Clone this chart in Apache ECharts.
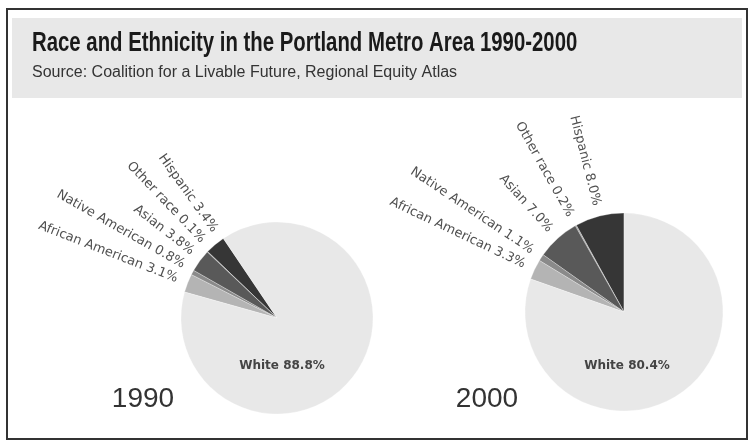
<!DOCTYPE html>
<html><head><meta charset="utf-8">
<script src="https://cdn.jsdelivr.net/npm/echarts@6/dist/echarts.min.js"></script>
<style>html,body{margin:0;padding:0;background:#fff}#c{width:751px;height:444px}</style>
</head><body><div id="c"></div>
<script>
const categories = ['Hispanic', 'Other race', 'Asian', 'Native American', 'African American', 'White'];
const values1990 = [3.4, 0.1, 3.8, 0.8, 3.1, 88.8];
const values2000 = [8.0, 0.2, 7.0, 1.1, 3.3, 80.4];
const years = ['1990', '2000'];
const titleText = 'Race and Ethnicity in the Portland Metro Area 1990-2000';
const subtitleText = 'Source: Coalition for a Livable Future, Regional Equity Atlas';

const sliceColors = ['#363636', '#9a9a9a', '#595959', '#8a8a8a', '#b4b4b4', '#e8e8e8'];
const pieCenters = [[277, 318], [624, 312]];
const pieRadii = [96, 99];
const pieOffset = [34, 0];          // degrees counter-clockwise from 12 o'clock
const whiteLabelShift = [[5, 48], [3, 54]];
const yearPos = [[143, 399], [487, 399]];
const labelGap = 8.3;

const chart = echarts.init(document.getElementById('c'), null, {renderer: 'canvas'});

function labelAngles(vals, offset) {
  const total = vals.reduce((a, b) => a + b, 0);
  let acc = offset;
  const mids = [];
  vals.forEach(v => { const w = v / total * 360; mids.push(acc + w / 2); acc += w; });
  const a = mids.slice(0, vals.length - 1);
  for (let i = a.length - 2; i >= 0; i--) a[i] = Math.min(a[i], a[i + 1] - labelGap);
  return a;
}

function pieSeries(vals, k) {
  const center = pieCenters[k];
  const r = pieRadii[k];
  const last = categories.length - 1;
  const angles = labelAngles(vals, pieOffset[k]);
  return {
    type: 'pie',
    center: center,
    radius: r,
    startAngle: 90 + pieOffset[k],
    clockwise: false,
    animation: false,
    avoidLabelOverlap: false,
    itemStyle: {borderColor: 'rgba(255,255,255,0.45)', borderWidth: 0.6},
    label: {
      show: true, position: 'outside',
      formatter: p => p.name + ' ' + p.value.toFixed(1) + '%',
      fontFamily: 'DejaVu Sans', fontSize: 13, color: '#505050'
    },
    labelLine: {show: false},
    labelLayout: p => {
      if (p.dataIndex === last) {
        return {x: center[0] + whiteLabelShift[k][0], y: center[1] + whiteLabelShift[k][1],
                align: 'center', verticalAlign: 'middle', rotate: 0};
      }
      const t = angles[p.dataIndex] * Math.PI / 180;
      const R = r + 11;
      return {x: center[0] - Math.sin(t) * R, y: center[1] - Math.cos(t) * R,
              align: 'right', verticalAlign: 'middle', rotate: angles[p.dataIndex] - 90};
    },
    emphasis: {disabled: true},
    data: categories.map((n, i) => ({
      name: n, value: vals[i],
      itemStyle: {color: sliceColors[i]},
      label: i === last ? {position: 'inside', fontWeight: 'bold', fontSize: 12, color: '#444'} : undefined
    }))
  };
}

chart.setOption({
  backgroundColor: '#ffffff',
  graphic: [
    {type: 'rect', z: -10, shape: {x: 12, y: 18, width: 730, height: 80}, style: {fill: '#e8e8e8'}},
    {type: 'rect', z: -5, shape: {x: 7, y: 9, width: 740, height: 430}, style: {fill: 'none', stroke: '#333', lineWidth: 2}},
    {type: 'text', x: 32, y: 44, scaleX: 0.754,
     style: {text: titleText, align: 'left', verticalAlign: 'middle', font: 'bold 27px "Liberation Sans", Arial, sans-serif', fill: '#1a1a1a'}},
    {type: 'text', x: 32, y: 73,
     style: {text: subtitleText, align: 'left', verticalAlign: 'middle', font: '16px "Liberation Sans", Arial, sans-serif', fill: '#333'}},
    ...years.map((t, i) => ({
      type: 'text', x: yearPos[i][0], y: yearPos[i][1],
      style: {text: t, align: 'center', verticalAlign: 'middle', font: '28px "Liberation Sans", Arial, sans-serif', fill: '#333'}
    }))
  ],
  series: [pieSeries(values1990, 0), pieSeries(values2000, 1)]
});
</script></body></html>
